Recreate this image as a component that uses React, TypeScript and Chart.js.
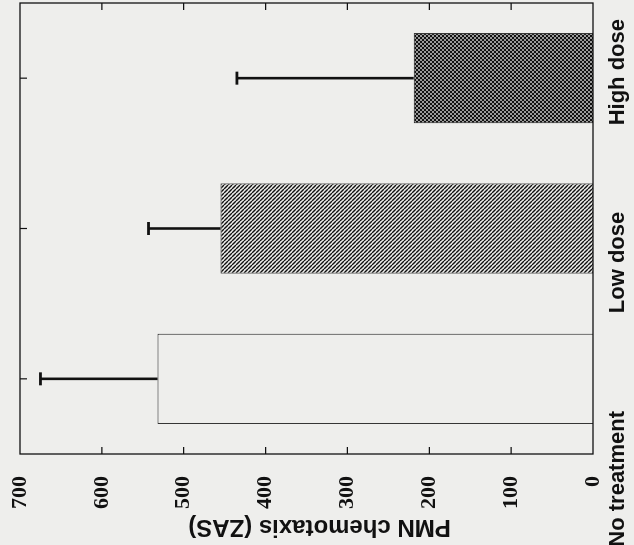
import React, { useEffect, useRef } from 'react';
import { Chart, registerables } from 'chart.js';

Chart.register(...registerables);

// ---- data ----
const categories = ['No treatment', 'Low dose', 'High dose'];
const meanValues = [532, 455, 219];
const errorValues = [143, 88, 216];
const valueTicks = [0, 100, 200, 300, 400, 500, 600, 700];
const axisTitle = 'PMN chemotaxis (ZAS)';

// ---- layout / style ----
const labelShift = [-100, -34, 6];
const PAPER = '#eeeeec';
const INK = '#111111';

function makeHatch(): CanvasPattern | string {
  const c = document.createElement('canvas');
  c.width = 4;
  c.height = 4;
  const g = c.getContext('2d');
  if (!g) return '#777';
  g.fillStyle = PAPER;
  g.fillRect(0, 0, 4, 4);
  g.strokeStyle = INK;
  g.lineWidth = 1.4;
  g.beginPath();
  for (const o of [-4, 0, 4]) {
    g.moveTo(o, 0);
    g.lineTo(o + 4, 4);
  }
  g.stroke();
  return g.createPattern(c, 'repeat') || '#777';
}

function makeChecker(): CanvasPattern | string {
  const c = document.createElement('canvas');
  c.width = 4;
  c.height = 4;
  const g = c.getContext('2d');
  if (!g) return '#444';
  g.fillStyle = INK;
  g.fillRect(0, 0, 4, 4);
  g.fillStyle = '#9a9a9a';
  g.fillRect(0, 0, 2, 2);
  g.fillRect(2, 2, 2, 2);
  return g.createPattern(c, 'repeat') || '#444';
}

const decorPlugin = {
  id: 'decor',
  afterDatasetsDraw(chart: any) {
    const { ctx, chartArea: a, scales } = chart;
    const xs = scales.x;
    const ys = scales.y;
    ctx.save();

    // error bars (upper only)
    ctx.strokeStyle = INK;
    ctx.lineCap = 'butt';
    meanValues.forEach((v, i) => {
      const px = xs.getPixelForValue(i);
      const base = ys.getPixelForValue(v);
      const top = ys.getPixelForValue(v + errorValues[i]);
      ctx.lineWidth = 2.6;
      ctx.beginPath();
      ctx.moveTo(px, base);
      ctx.lineTo(px, top);
      ctx.stroke();
      ctx.lineWidth = 2.8;
      ctx.beginPath();
      ctx.moveTo(px - 6.5, top);
      ctx.lineTo(px + 6.5, top);
      ctx.stroke();
    });

    // frame
    ctx.lineWidth = 1.3;
    ctx.strokeStyle = INK;
    ctx.strokeRect(a.left, a.top, a.right - a.left, a.bottom - a.top);

    // inward tick marks
    ctx.lineWidth = 1.2;
    ys.ticks.forEach((t: any) => {
      if (t.value === ys.min || t.value === ys.max) return;
      const py = ys.getPixelForValue(t.value);
      ctx.beginPath();
      ctx.moveTo(a.left, py);
      ctx.lineTo(a.left + 7, py);
      ctx.moveTo(a.right, py);
      ctx.lineTo(a.right - 7, py);
      ctx.stroke();
    });
    categories.forEach((_, i) => {
      const px = xs.getPixelForValue(i);
      ctx.beginPath();
      ctx.moveTo(px, a.top);
      ctx.lineTo(px, a.top + 7);
      ctx.stroke();
    });

    // category labels
    ctx.fillStyle = INK;
    ctx.font = 'bold 22px "Liberation Sans", Arial, sans-serif';
    ctx.textAlign = 'center';
    ctx.textBaseline = 'alphabetic';
    categories.forEach((lab, i) => {
      const px = xs.getPixelForValue(i);
      ctx.fillText(lab, px + labelShift[i], a.bottom + 31);
    });

    // value-axis title
    ctx.translate(a.left - 66, (a.top + a.bottom) / 2 + 13);
    ctx.rotate(-Math.PI / 2);
    ctx.font = 'bold 24px "Liberation Sans", Arial, sans-serif';
    ctx.textAlign = 'center';
    ctx.textBaseline = 'alphabetic';
    ctx.fillText(axisTitle, 0, 0);

    ctx.restore();
  },
};

export default function App() {
  const canvasRef = useRef<HTMLCanvasElement | null>(null);

  useEffect(() => {
    document.body.style.background = PAPER;
    const canvas = canvasRef.current;
    if (!canvas) return;
    const chart = new Chart(canvas, {
      type: 'bar',
      data: {
        labels: categories,
        datasets: [
          {
            data: meanValues,
            backgroundColor: [PAPER, makeHatch(), makeChecker()] as any,
            borderColor: '#1a1a1a',
            borderWidth: 1,
            barPercentage: 0.6,
            categoryPercentage: 1,
          },
        ],
      },
      options: {
        responsive: false,
        animation: false,
        devicePixelRatio: 1,
        layout: { padding: { left: 0, right: 3, top: 20, bottom: 0 } },
        plugins: {
          legend: { display: false },
          tooltip: { enabled: false },
        },
        scales: {
          x: {
            grid: { display: false },
            border: { display: false },
            ticks: { display: false },
            afterFit: (s: any) => {
              s.height = 41;
            },
          },
          y: {
            min: 0,
            max: 700,
            afterBuildTicks: (s: any) => {
              s.ticks = valueTicks.map((v) => ({ value: v }));
            },
            grid: { display: false },
            border: { display: false },
            ticks: {
              color: INK,
              padding: 14,
              font: {
                family: '"Liberation Serif", "Times New Roman", serif',
                weight: 'bold',
                size: 22,
              },
            },
            afterFit: (s: any) => {
              s.width = 91;
              s.paddingTop = 0;
              s.paddingBottom = 0;
            },
          },
        },
      },
      plugins: [decorPlugin],
    });
    return () => chart.destroy();
  }, []);

  return (
    <div
      style={{
        position: 'fixed',
        left: 0,
        top: 0,
        width: 634,
        height: 545,
        overflow: 'hidden',
        background: PAPER,
      }}
    >
      <div
        style={{
          position: 'absolute',
          left: 0,
          top: 0,
          width: 545,
          height: 634,
          transformOrigin: '0 0',
          transform: 'translate(0px, 545px) rotate(-90deg)',
        }}
      >
        <canvas ref={canvasRef} width={545} height={634} style={{ width: 545, height: 634, display: 'block' }} />
      </div>
    </div>
  );
}
